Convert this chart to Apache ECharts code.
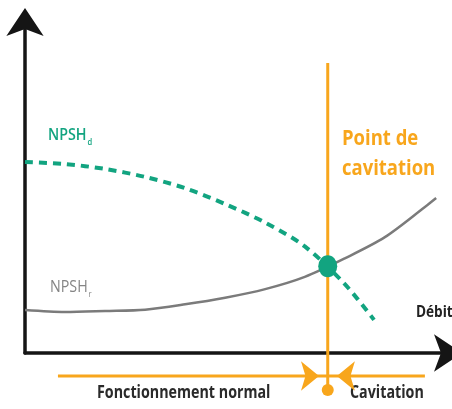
<!DOCTYPE html>
<html>
<head>
<meta charset="utf-8">
<script src="https://cdn.jsdelivr.net/npm/echarts@6/dist/echarts.min.js"></script>
<style>
  html, body { margin: 0; padding: 0; background: #fff; }
  #chart { width: 452px; height: 409px; }
</style>
</head>
<body>
<div id="chart"></div>
<script>
// Available NPSH (pump suction side), relative flow units
const debitD = [0, 9.6, 19.2, 28.8, 38.4, 48.0, 57.6, 67.1, 76.7, 83.7];
const npshD  = [57.7, 57.1, 55.6, 53.2, 49.8, 45.0, 39.4, 32.2, 20.8, 10.0];

// Required NPSH (pump characteristic)
const debitR = [0, 9.6, 19.2, 28.8, 38.4, 48.0, 57.6, 67.1, 76.7, 86.3, 95.9, 98.6];
const npshR  = [13.0, 12.4, 12.7, 13.1, 14.7, 16.7, 19.3, 23.0, 28.6, 35.0, 44.1, 46.8];

// Cavitation point (intersection of both curves)
const cavitation = [72.6, 26.2];

// Operating-range band below the flow axis
const bandY = -6.95;
const bandStart = 7.9;
const bandEnd = 95.9;
const markerTop = 87.6;
const markerBottom = -11.2;

const GREEN = '#12a480';
const ORANGE = '#f8a61c';
const GRAY = '#7b7b7b';
const INK = '#151515';
const FONT = "'Open Sans', 'Noto Sans', sans-serif";

const zip = (xs, ys) => xs.map((x, i) => [x, ys[i]]);

const chart = echarts.init(document.getElementById('chart'), null, { renderer: 'canvas' });

function axis(offset) {
  return {
    type: 'value',
    min: 0,
    max: 100,
    axisTick: { show: false },
    axisLabel: { show: false },
    splitLine: { show: false },
    axisLine: {
      show: true,
      onZero: false,
      symbol: ['none', 'arrow'],
      symbolSize: [28, 28],
      symbolOffset: [0, offset],
      lineStyle: { color: INK, width: 3.5 }
    }
  };
}

// Condensed label helper: text drawn at a position, narrowed horizontally
function label(left, top, text, size, weight, color, sx) {
  return {
    type: 'text', left: left, top: top, scaleX: sx,
    style: { text: text, fontFamily: FONT, fontSize: size, fontWeight: weight, fill: color }
  };
}

chart.setOption({
  animation: false,
  backgroundColor: '#ffffff',
  grid: { left: 25, right: 10, top: 22, bottom: 56, containLabel: false },
  xAxis: axis(20),
  yAxis: axis(14),
  series: [
    {
      name: 'NPSHd',
      type: 'line',
      data: zip(debitD, npshD),
      smooth: 0.3,
      showSymbol: false,
      symbol: 'none',
      lineStyle: { color: GREEN, width: 4, type: [8, 6] },
      z: 3
    },
    {
      name: 'NPSHr',
      type: 'line',
      data: zip(debitR, npshR),
      smooth: 0.3,
      showSymbol: false,
      symbol: 'none',
      lineStyle: { color: GRAY, width: 2.5 },
      z: 3
    },
    {
      name: 'repère',
      type: 'line',
      clip: false,
      data: [[cavitation[0], markerTop], [cavitation[0], markerBottom]],
      symbol: 'none',
      lineStyle: { color: ORANGE, width: 3 },
      z: 2
    },
    {
      name: 'plage',
      type: 'line',
      clip: false,
      data: [[bandStart, bandY], [bandEnd, bandY]],
      symbol: 'none',
      lineStyle: { color: ORANGE, width: 3 },
      z: 2
    },
    {
      name: 'flèches',
      type: 'scatter',
      clip: false,
      symbol: 'arrow',
      symbolSize: [22, 18],
      itemStyle: { color: ORANGE, opacity: 1 },
      data: [
        { value: [70.5, bandY], symbolRotate: -90 },
        { value: [74.8, bandY], symbolRotate: 90 }
      ],
      z: 4
    },
    {
      name: 'pied',
      type: 'scatter',
      clip: false,
      symbol: 'circle',
      symbolSize: 12,
      itemStyle: { color: ORANGE, opacity: 1 },
      data: [[cavitation[0], markerBottom]],
      z: 4
    },
    {
      name: 'point',
      type: 'scatter',
      symbol: 'circle',
      symbolSize: [19, 22],
      itemStyle: { color: GREEN, opacity: 1 },
      data: [cavitation],
      z: 5
    }
  ],
  graphic: [
    {
      type: 'text', left: 48, top: 127, scaleX: 0.84,
      style: {
        text: '{m|NPSH}{s|d}',
        rich: {
          m: { fontFamily: FONT, fontSize: 17, fontWeight: 600, fill: GREEN },
          s: { fontFamily: FONT, fontSize: 9, fontWeight: 600, fill: GREEN, padding: [13, 0, 0, 1] }
        }
      }
    },
    {
      type: 'text', left: 50, top: 279, scaleX: 0.84,
      style: {
        text: '{m|NPSH}{s|r}',
        rich: {
          m: { fontFamily: FONT, fontSize: 17, fontWeight: 400, fill: '#858585' },
          s: { fontFamily: FONT, fontSize: 9, fontWeight: 400, fill: '#858585', padding: [13, 0, 0, 1] }
        }
      }
    },
    {
      type: 'text', left: 342, top: 124, scaleX: 0.84,
      style: {
        text: 'Point de\ncavitation',
        fontFamily: FONT, fontSize: 22, fontWeight: 700, fill: ORANGE, lineHeight: 30
      }
    },
    label(416, 304, 'Débit', 16, 700, '#222', 0.85),
    label(97, 385, 'Fonctionnement normal', 17, 700, '#2a2a2a', 0.84),
    label(350, 385, 'Cavitation', 17, 700, '#2a2a2a', 0.84)
  ]
});
</script>
</body>
</html>
